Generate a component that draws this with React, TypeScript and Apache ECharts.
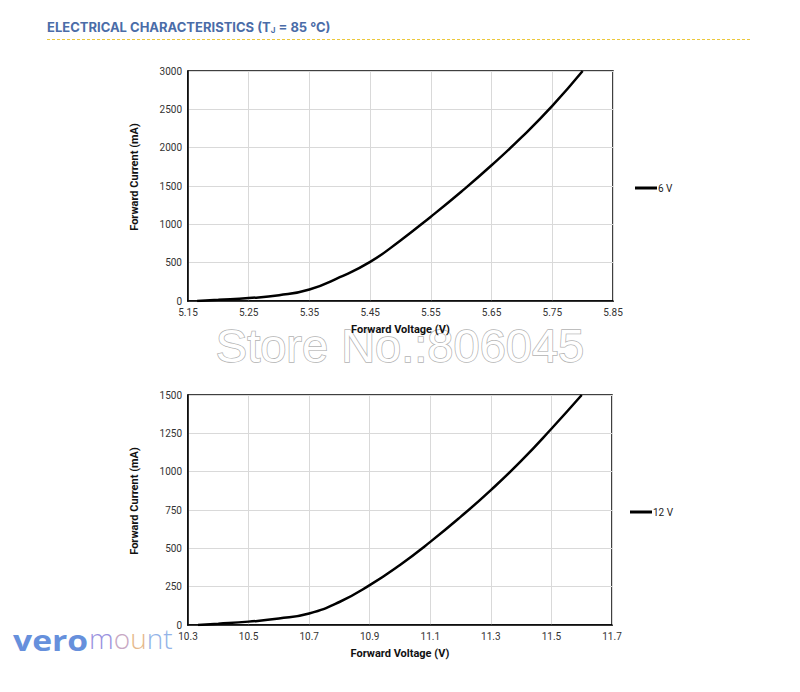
import React, { useEffect, useRef } from "react";
import * as echarts from "echarts";

// ---- data ----
const voltage6V: number[] = [5.165, 5.2, 5.25, 5.3, 5.35, 5.4, 5.45, 5.5, 5.55, 5.6, 5.65, 5.7, 5.75, 5.8];
const current6V: number[] = [0, 15, 38, 75, 150, 310, 510, 790, 1100, 1425, 1770, 2140, 2545, 3000];

const voltage12V: number[] = [10.333, 10.4, 10.5, 10.6, 10.7, 10.8, 10.9, 11.0, 11.1, 11.2, 11.3, 11.4, 11.5, 11.6];
const current12V: number[] = [0, 8, 22, 42, 75, 150, 260, 392, 542, 705, 880, 1070, 1280, 1500];

const seriesNames = ["6 V", "12 V"];
const xAxisTitle = "Forward Voltage (V)";
const yAxisTitle = "Forward Current (mA)";

const FONT = "Roboto, 'Liberation Sans', sans-serif";

export default function App() {
  const ref = useRef<HTMLDivElement>(null);

  useEffect(() => {
    if (!ref.current) return;
    const chart = echarts.init(ref.current, undefined, { renderer: "svg" });

    const axisLabel = { color: "#333", fontSize: 10, fontFamily: FONT, margin: 6 };
    const nameStyle = { color: "#111", fontSize: 11, fontWeight: "bold" as const, fontFamily: FONT };
    const splitLine = { show: true, lineStyle: { color: "#d9d9d9", width: 1 } };
    const axisLine = { show: true, lineStyle: { color: "#000", width: 1.5 } };

    const grids = [
      { left: 188, top: 71, width: 425, height: 230 },
      { left: 188, top: 395, width: 424, height: 230 },
    ];

    const legendBase = {
      icon: "rect",
      itemWidth: 22,
      itemHeight: 3,
      textStyle: { color: "#222", fontSize: 10, fontFamily: FONT, padding: [0, 0, 0, -4] },
    };

    const xAx = (gi: number, min: number, max: number, interval: number, dp: number) => ({
      gridIndex: gi,
      type: "value",
      min,
      max,
      interval,
      axisLine,
      axisTick: { show: false },
      splitLine,
      axisLabel: { ...axisLabel, formatter: (v: number) => v.toFixed(dp) },
      name: xAxisTitle,
      nameLocation: "middle",
      nameGap: 23,
      nameTextStyle: nameStyle,
    });

    const yAx = (gi: number, max: number, interval: number) => ({
      gridIndex: gi,
      type: "value",
      min: 0,
      max,
      interval,
      axisLine,
      axisTick: { show: false },
      splitLine,
      axisLabel: { ...axisLabel, formatter: (v: number) => String(v) },
      name: yAxisTitle,
      nameLocation: "middle",
      nameGap: 48,
      nameMoveOverlap: false,
      nameTextStyle: { ...nameStyle, padding: [0, 0, 0, 18] },
    });

    const lineSeries = (i: number, xs: number[], ys: number[]) => ({
      name: seriesNames[i],
      type: "line",
      xAxisIndex: i,
      yAxisIndex: i,
      smooth: 0.5,
      showSymbol: false,
      symbol: "none",
      color: "#000",
      lineStyle: { color: "#000", width: 2.5 },
      data: xs.map((v, k) => [v, ys[k]]),
      z: 5,
    });

    const logoFont = "'Open Sans', Roboto, sans-serif";

    chart.setOption({
      animation: false,
      backgroundColor: "#fff",
      grid: grids.map((g) => ({ ...g, show: true, borderColor: "#000", borderWidth: 1.5, backgroundColor: "transparent" })),
      legend: [
        { ...legendBase, data: [seriesNames[0]], left: 630, top: 178 },
        { ...legendBase, data: [seriesNames[1]], left: 625, top: 502 },
      ],
      xAxis: [xAx(0, 5.15, 5.85, 0.1, 2), xAx(1, 10.3, 11.7, 0.2, 1)],
      yAxis: [yAx(0, 3000, 500), yAx(1, 1500, 250)],
      series: [lineSeries(0, voltage6V, current6V), lineSeries(1, voltage12V, current12V)],
      graphic: [
        {
          type: "text",
          left: 47,
          top: 20,
          z: 10,
          style: {
            text: "{t|ELECTRICAL CHARACTERISTICS (T}{s|J}{t| = 85 °C)}",
            rich: {
              t: { fill: "#4a6ca8", fontSize: 13, fontWeight: "bold", fontFamily: "Inter, Roboto, sans-serif" },
              s: { fill: "#4a6ca8", fontSize: 8, fontWeight: "bold", fontFamily: "Inter, Roboto, sans-serif", verticalAlign: "bottom", padding: [6, 0, 0, 0] },
            },
          },
        },
        {
          type: "line",
          z: 10,
          shape: { x1: 47, y1: 39.5, x2: 752, y2: 39.5 },
          style: { stroke: "#ebc83a", lineWidth: 1.2, lineDash: [3, 2] },
        },
        {
          type: "text",
          z: 0,
          x: 400,
          y: 345,
          style: {
            text: "Store No.:806045",
            fontSize: 47,
            fontFamily: "'Liberation Sans', Arial, sans-serif",
            fill: "#ffffff",
            stroke: "#b3b3b3",
            lineWidth: 1.5,
            align: "center",
            verticalAlign: "middle",
          },
        },
        {
          type: "text",
          z: 10,
          x: 13,
          y: 639,
          scaleX: 1.16,
          style: {
            text: "vero",
            fontSize: 29,
            fontWeight: "bold",
            fontFamily: logoFont,
            verticalAlign: "middle",
            fill: "#6690dc",
          },
        },
        {
          type: "text",
          z: 10,
          x: 89,
          y: 638,
          style: {
            text: "{a|m}{b|o}{c|u}{d|nt}",
            verticalAlign: "middle",
            rich: {
              a: { fontSize: 28, fontWeight: 300, fontFamily: logoFont, fill: "#9a92e0" },
              b: { fontSize: 28, fontWeight: 300, fontFamily: logoFont, fill: "#c8a8c4" },
              c: { fontSize: 28, fontWeight: 300, fontFamily: logoFont, fill: "#e6b98c" },
              d: { fontSize: 28, fontWeight: 300, fontFamily: logoFont, fill: "#93b3e8" },
            },
          },
        },
      ],
    });

    return () => chart.dispose();
  }, []);

  return <div ref={ref} style={{ position: "fixed", left: 0, top: 0, width: 800, height: 692 }} />;
}
